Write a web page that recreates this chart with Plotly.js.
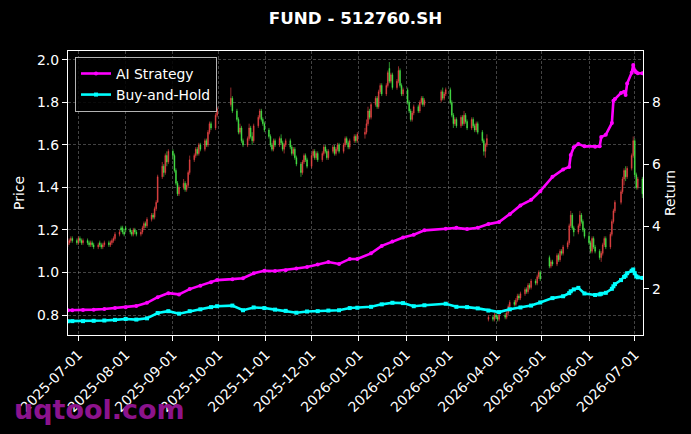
<!DOCTYPE html>
<html>
<head>
<meta charset="utf-8">
<script src="https://cdn.plot.ly/plotly-3.0.1.min.js"></script>
<style>html,body{margin:0;padding:0;background:#000;}#chart{width:691px;height:434px;}</style>
</head>
<body>
<div id="chart"></div>
<script>
// ---- trading calendar (categories) ----
const firstDay = '2025-06-24';
const lastDay = '2026-07-06';
const holidays = ['2025-10-01','2025-10-02','2025-10-03','2025-10-06','2025-10-07','2025-10-08',
  '2026-01-01','2026-01-02','2026-02-16','2026-02-17','2026-02-18','2026-02-19','2026-02-20','2026-02-23',
  '2026-04-06','2026-05-01','2026-05-04','2026-05-05','2026-06-19'];

// ---- OHLC price series (one entry per trading day, month by month) ----
const openPx = [
  1.13,1.14,1.15,1.16,1.15,
  1.14,1.16,1.15,1.14, 1.15,1.14,1.13,1.14,1.13, 1.12,1.14,1.13,1.12,1.13, 1.14,1.13,1.14,1.15,1.16, 1.18,1.21,1.21,1.19,
  1.21, 1.20,1.19,1.18,1.20,1.19, 1.18,1.19,1.21,1.23,1.22, 1.25,1.27,1.26,1.30,1.33, 1.45,1.50,1.47,1.55,1.52,
  1.57,1.55,1.48,1.42,1.37, 1.40,1.42,1.39,1.41,1.47, 1.53,1.55,1.58,1.56,1.60, 1.58,1.62,1.60,1.66,1.70, 1.68,1.74,
  1.79,1.82, 1.76,1.72,1.66,1.68,1.62, 1.60,1.63,1.68,1.64,1.62, 1.69,1.73,1.76,1.72,1.70,
  1.67,1.64,1.60,1.58,1.62, 1.60,1.63,1.61,1.58,1.60, 1.62,1.59,1.56,1.58,1.54, 1.51,1.47,1.52,1.55,1.53,
  1.50,1.55,1.57,1.54,1.56, 1.53,1.56,1.59,1.57,1.54, 1.57,1.59,1.56,1.58,1.60, 1.57,1.60,1.63,1.61,1.59, 1.62,1.64,1.62,
  1.65,1.66,1.70,1.76,1.73, 1.79,1.82,1.78,1.85,1.88, 1.84,1.88,1.96,1.90,1.93, 1.87,1.90,1.95,1.88,1.84,
  1.86,1.80,1.76,1.72,1.75, 1.78,1.76,1.80,1.82,1.79, 1.81,1.85,1.82,1.84,
  1.86,1.80,1.74,1.70,1.72, 1.69,1.73,1.70,1.74,1.71, 1.68,1.72,1.69,1.67,1.70, 1.66,1.62,1.57,1.60,0.78, 0.79,0.78,
  0.80,0.79,0.78, 0.80,0.79,0.81,0.84, 0.86,0.85,0.87,0.89,0.88, 0.90,0.92,0.91,0.94,0.93, 0.96,0.95,0.98,1.00,
  1.07,1.03,1.05, 1.04,1.08,1.06,1.10,1.09, 1.12,1.14,1.22,1.27,1.21, 1.19,1.22,1.27,1.24,1.20,
  1.17,1.14,1.10,1.16,1.12, 1.10,1.07,1.09,1.13,1.16, 1.12,1.18,1.24,1.29, 1.33,1.38,1.44,1.48,1.45, 1.49,1.55,
  1.62,1.46,1.40,1.44
];
const highPx = [
  1.16,1.16,1.17,1.17,1.16,
  1.17,1.17,1.16,1.16, 1.16,1.15,1.15,1.15,1.14, 1.14,1.15,1.14,1.14,1.15, 1.15,1.15,1.16,1.17,1.19, 1.20,1.22,1.22,1.20,
  1.22, 1.21,1.20,1.21,1.21,1.20, 1.20,1.22,1.24,1.24,1.26, 1.28,1.28,1.31,1.34,1.46, 1.52,1.51,1.56,1.57,1.58,
  1.58,1.56,1.49,1.43,1.41, 1.44,1.43,1.42,1.48,1.55, 1.56,1.59,1.59,1.61,1.61, 1.63,1.63,1.67,1.71,1.71, 1.75,1.78,
  1.87,1.83, 1.77,1.73,1.70,1.69,1.63, 1.64,1.70,1.69,1.66,1.70, 1.74,1.77,1.77,1.73,1.71,
  1.68,1.65,1.61,1.63,1.63, 1.64,1.65,1.62,1.61,1.63, 1.63,1.60,1.59,1.59,1.55, 1.52,1.53,1.56,1.56,1.54,
  1.56,1.58,1.58,1.57,1.57, 1.57,1.60,1.60,1.58,1.58, 1.60,1.60,1.59,1.61,1.61, 1.61,1.64,1.64,1.62,1.63, 1.65,1.65,1.66,
  1.68,1.72,1.78,1.77,1.80, 1.83,1.83,1.86,1.89,1.89, 1.89,1.95,1.99,1.94,1.94, 1.91,1.97,1.96,1.89,1.87,
  1.87,1.81,1.77,1.76,1.79, 1.79,1.81,1.83,1.83,1.82, 1.86,1.87,1.85,1.87,
  1.87,1.81,1.75,1.73,1.73, 1.74,1.74,1.76,1.75,1.72, 1.73,1.73,1.70,1.71,1.71, 1.67,1.63,1.61,1.65,0.80, 0.80,0.81,
  0.81,0.80,0.81, 0.81,0.82,0.85,0.87, 0.87,0.88,0.90,0.90,0.91, 0.93,0.93,0.95,0.95,0.97, 0.97,0.99,1.01,1.01,
  1.08,1.06,1.06, 1.09,1.09,1.11,1.11,1.13, 1.15,1.23,1.29,1.28,1.22, 1.23,1.29,1.28,1.25,1.21,
  1.19,1.15,1.17,1.17,1.13, 1.11,1.10,1.14,1.17,1.17, 1.19,1.25,1.30,1.34, 1.39,1.45,1.49,1.50,1.50, 1.56,1.64,
  1.63,1.47,1.45,1.45
];
const lowPx = [
  1.12,1.13,1.14,1.14,1.13,
  1.13,1.14,1.13,1.13, 1.13,1.12,1.12,1.12,1.11, 1.11,1.12,1.11,1.11,1.12, 1.12,1.12,1.13,1.14,1.15, 1.17,1.19,1.18,1.17,
  1.19, 1.18,1.17,1.17,1.18,1.17, 1.17,1.18,1.20,1.21,1.21, 1.24,1.25,1.25,1.29,1.33, 1.44,1.45,1.46,1.50,1.51,
  1.53,1.47,1.41,1.36,1.36, 1.39,1.38,1.38,1.40,1.46, 1.52,1.54,1.55,1.55,1.57, 1.57,1.59,1.59,1.65,1.67, 1.67,1.73,
  1.78,1.75, 1.71,1.65,1.65,1.61,1.59, 1.59,1.62,1.63,1.60,1.61, 1.68,1.72,1.71,1.69,1.66,
  1.63,1.59,1.57,1.57,1.59, 1.59,1.60,1.57,1.56,1.59, 1.58,1.55,1.55,1.53,1.50, 1.45,1.46,1.51,1.52,1.49,
  1.49,1.54,1.53,1.53,1.52, 1.52,1.55,1.56,1.53,1.53, 1.56,1.55,1.55,1.57,1.56, 1.56,1.59,1.60,1.58,1.58, 1.61,1.61,1.61,
  1.63,1.65,1.69,1.72,1.72, 1.78,1.77,1.77,1.84,1.83, 1.83,1.87,1.89,1.89,1.86, 1.86,1.89,1.87,1.83,1.83,
  1.79,1.75,1.71,1.71,1.74, 1.75,1.75,1.79,1.78,1.78, 1.80,1.81,1.81,1.83,
  1.79,1.73,1.68,1.69,1.68, 1.68,1.69,1.69,1.70,1.67, 1.67,1.68,1.66,1.66,1.65, 1.61,1.55,1.54,1.59,0.77, 0.77,0.77,
  0.78,0.77,0.77, 0.78,0.78,0.80,0.83, 0.84,0.84,0.86,0.87,0.87, 0.89,0.90,0.90,0.92,0.92, 0.94,0.94,0.97,0.96,
  1.02,1.02,1.03, 1.03,1.05,1.05,1.08,1.08, 1.11,1.13,1.21,1.20,1.17, 1.18,1.21,1.23,1.19,1.16,
  1.13,1.09,1.09,1.11,1.09, 1.06,1.05,1.08,1.12,1.11, 1.11,1.17,1.23,1.28, 1.32,1.37,1.41,1.43,1.44, 1.48,1.54,
  1.45,1.39,1.39,1.35
];
const closePx = [
  1.14,1.15,1.16,1.15,1.14,
  1.16,1.15,1.14,1.15, 1.14,1.13,1.14,1.13,1.12, 1.13,1.13,1.12,1.13,1.14, 1.13,1.14,1.15,1.16,1.18, 1.19,1.20,1.19,1.18,
  1.20, 1.19,1.18,1.20,1.19,1.18, 1.19,1.21,1.23,1.22,1.25, 1.27,1.26,1.30,1.33,1.45, 1.50,1.47,1.55,1.52,1.57,
  1.55,1.48,1.42,1.37,1.40, 1.42,1.39,1.41,1.47,1.53, 1.55,1.58,1.56,1.60,1.58, 1.62,1.60,1.66,1.70,1.68, 1.74,1.77,
  1.82,1.76, 1.72,1.66,1.68,1.62,1.60, 1.63,1.68,1.64,1.62,1.69, 1.73,1.76,1.72,1.70,1.67,
  1.64,1.60,1.58,1.62,1.60, 1.63,1.61,1.58,1.60,1.62, 1.59,1.56,1.58,1.54,1.51, 1.47,1.52,1.55,1.53,1.50,
  1.55,1.57,1.54,1.56,1.53, 1.56,1.59,1.57,1.54,1.57, 1.59,1.56,1.58,1.60,1.57, 1.60,1.63,1.61,1.59,1.62, 1.64,1.62,1.65,
  1.66,1.70,1.76,1.73,1.79, 1.82,1.78,1.85,1.88,1.84, 1.88,1.94,1.90,1.93,1.87, 1.90,1.95,1.88,1.84,1.86,
  1.80,1.76,1.72,1.75,1.78, 1.76,1.80,1.82,1.79,1.81, 1.85,1.82,1.84,1.86,
  1.80,1.74,1.70,1.72,1.69, 1.73,1.70,1.74,1.71,1.68, 1.72,1.69,1.67,1.70,1.66, 1.62,1.57,1.60,1.63,0.79, 0.78,0.80,
  0.79,0.78,0.80, 0.79,0.81,0.84,0.86, 0.85,0.87,0.89,0.88,0.90, 0.92,0.91,0.94,0.93,0.96, 0.95,0.98,1.00,0.97,
  1.03,1.05,1.04, 1.08,1.06,1.10,1.09,1.12, 1.14,1.22,1.27,1.21,1.19, 1.22,1.27,1.24,1.20,1.17,
  1.14,1.10,1.16,1.12,1.10, 1.07,1.09,1.13,1.16,1.12, 1.18,1.24,1.29,1.33, 1.38,1.44,1.48,1.45,1.49, 1.55,1.62,
  1.46,1.40,1.44,1.37
];

// ---- return series (right axis) ----
const lineDates = ['2025-06-24','2025-06-27','2025-07-04','2025-07-11','2025-07-18','2025-07-25','2025-08-01','2025-08-08',
  '2025-08-15','2025-08-22','2025-08-29','2025-09-05','2025-09-12','2025-09-19','2025-09-26','2025-09-30','2025-10-10',
  '2025-10-17','2025-10-24','2025-10-31','2025-11-07','2025-11-14','2025-11-21','2025-11-28','2025-12-05','2025-12-12',
  '2025-12-19','2025-12-26','2025-12-31','2026-01-09','2026-01-16','2026-01-23','2026-01-30','2026-02-06','2026-02-13',
  '2026-02-27','2026-03-06','2026-03-13','2026-03-20','2026-03-27','2026-04-03','2026-04-10','2026-04-17','2026-04-24',
  '2026-04-30','2026-05-08','2026-05-15','2026-05-19','2026-05-20','2026-05-22','2026-05-25','2026-05-29','2026-06-05',
  '2026-06-08','2026-06-09','2026-06-12','2026-06-16','2026-06-17','2026-06-18','2026-06-22','2026-06-24','2026-06-25',
  '2026-06-26','2026-06-29','2026-06-30','2026-07-01','2026-07-02','2026-07-03','2026-07-06'];
const aiReturn = [1.31,1.31,1.32,1.33,1.35,1.38,1.41,1.45,
  1.55,1.73,1.86,1.82,1.99,2.10,2.21,2.28,2.31,
  2.34,2.50,2.58,2.57,2.60,2.65,2.70,2.78,2.86,
  2.80,2.96,2.96,3.14,3.38,3.52,3.65,3.74,3.88,
  3.93,3.96,3.92,3.96,4.08,4.15,4.40,4.68,4.86,
  5.14,5.60,5.84,5.92,6.30,6.55,6.66,6.58,6.57,
  6.58,6.88,6.95,7.33,8.05,8.10,8.30,8.34,8.23,
  8.60,8.95,9.20,9.02,8.96,8.93,8.93];
const bhReturn = [0.96,0.96,0.96,0.97,0.98,1.00,1.03,1.01,
  1.05,1.22,1.28,1.20,1.28,1.34,1.41,1.44,1.46,
  1.31,1.40,1.38,1.33,1.29,1.23,1.27,1.28,1.30,
  1.31,1.38,1.39,1.42,1.50,1.55,1.54,1.44,1.47,
  1.52,1.42,1.41,1.37,1.30,1.25,1.34,1.40,1.46,
  1.56,1.70,1.76,1.86,1.92,1.98,2.03,1.85,1.80,
  1.82,1.84,1.87,2.00,2.08,2.15,2.28,2.38,2.42,
  2.50,2.58,2.62,2.50,2.40,2.37,2.35];

const titleText = 'FUND - 512760.SH';
const seriesNames = ['AI Strategy', 'Buy-and-Hold'];
const watermark = 'uqtool.com';

// build trading dates
const hol = new Set(holidays);
const tradeDates = [];
for (let d = new Date(firstDay + 'T00:00:00Z'); d <= new Date(lastDay + 'T00:00:00Z'); d.setUTCDate(d.getUTCDate() + 1)) {
  const wd = d.getUTCDay();
  const s = d.toISOString().slice(0, 10);
  if (wd !== 0 && wd !== 6 && !hol.has(s)) tradeDates.push(s);
}
if ([openPx, highPx, lowPx, closePx].some(a => a.length !== tradeDates.length)) {
  throw new Error('length mismatch ' + tradeDates.length + ' ' + openPx.length + ' ' + highPx.length + ' ' + lowPx.length + ' ' + closePx.length);
}

const FONT = 'DejaVu Sans, Liberation Sans, sans-serif';
const traces = [
  {
    type: 'candlestick', x: tradeDates, open: openPx, high: highPx, low: lowPx, close: closePx,
    xaxis: 'x', yaxis: 'y', showlegend: false, whiskerwidth: 0,
    increasing: {line: {color: '#ee4646', width: 0.6}, fillcolor: '#ee4646'},
    decreasing: {line: {color: '#4aee4a', width: 0.6}, fillcolor: '#4aee4a'},
    hoverinfo: 'skip'
  },
  {
    type: 'scatter', mode: 'lines+markers', name: seriesNames[0], x: lineDates, y: aiReturn, yaxis: 'y2',
    line: {color: '#ff00ff', width: 2.6}, marker: {symbol: 'circle', size: 4, color: '#ff00ff'}
  },
  {
    type: 'scatter', mode: 'lines+markers', name: seriesNames[1], x: lineDates, y: bhReturn, yaxis: 'y2',
    line: {color: '#00ffff', width: 2.6}, marker: {symbol: 'square', size: 4, color: '#00ffff'}
  }
];

const gridCol = 'rgba(150,150,150,0.55)';
const layout = {
  width: 691, height: 434,
  paper_bgcolor: '#000000', plot_bgcolor: '#000000',
  margin: {l: 68, r: 48, t: 51, b: 99, pad: 0},
  font: {family: FONT, color: '#ffffff', size: 13.9},
  title: {text: '<b>' + titleText + '</b>', font: {family: FONT, size: 16.7, color: '#ffffff'},
          x: 0.5, xref: 'paper', xanchor: 'center', y: 1 - 18 / 434, yref: 'container', yanchor: 'middle'},
  showlegend: true,
  legend: {x: 0.0122, y: 0.979, xanchor: 'left', yanchor: 'top', bgcolor: 'rgba(0,0,0,0.85)',
           bordercolor: 'rgba(210,210,210,0.85)', borderwidth: 1, font: {family: FONT, size: 13.9, color: '#ffffff'},
           itemwidth: 30, tracegroupgap: 0},
  xaxis: {
    type: 'date', range: ['2025-06-24 04:00', '2026-07-06 10:00'],
    tickformat: '%Y-%m-%d', dtick: 'M1', tick0: '2025-07-01', tickangle: -45,
    ticks: 'outside', ticklen: 5, tickwidth: 1, tickcolor: '#ffffff',
    showline: true, linecolor: '#ffffff', linewidth: 1.2, mirror: true,
    showgrid: true, gridcolor: gridCol, gridwidth: 0.8, griddash: '3px,2px', zeroline: false,
    rangeslider: {visible: false}, tickfont: {size: 13.9, color: '#ffffff'}
  },
  yaxis: {
    range: [0.706, 2.042], dtick: 0.2, tick0: 0, tickformat: '.1f',
    ticks: 'outside', ticklen: 5, tickwidth: 1, tickcolor: '#ffffff',
    showline: true, linecolor: '#ffffff', linewidth: 1.2, mirror: true,
    showgrid: true, gridcolor: gridCol, gridwidth: 0.8, griddash: '3px,2px', zeroline: false,
    title: {text: 'Price', font: {size: 13.9, color: '#ffffff'}, standoff: 9},
    tickfont: {size: 13.9, color: '#ffffff'}, automargin: false
  },
  yaxis2: {
    overlaying: 'y', side: 'right', range: [0.514, 9.647], dtick: 2, tick0: 0,
    ticks: 'outside', ticklen: 5, tickwidth: 1, tickcolor: '#ffffff',
    showline: true, linecolor: '#ffffff', linewidth: 1.2,
    showgrid: false, zeroline: false,
    title: {text: 'Return', font: {size: 13.9, color: '#ffffff'}, standoff: 5},
    tickfont: {size: 13.9, color: '#ffffff'}, automargin: false
  },
  annotations: [{
    text: '<b>' + watermark + '</b>', xref: 'paper', yref: 'paper',
    x: -0.0974, y: -0.2606, xanchor: 'left', yanchor: 'middle', showarrow: false,
    font: {family: FONT, size: 27, color: '#8c138c'}
  }]
};

Plotly.newPlot('chart', traces, layout, {staticPlot: true, displayModeBar: false});
</script>
</body>
</html>
